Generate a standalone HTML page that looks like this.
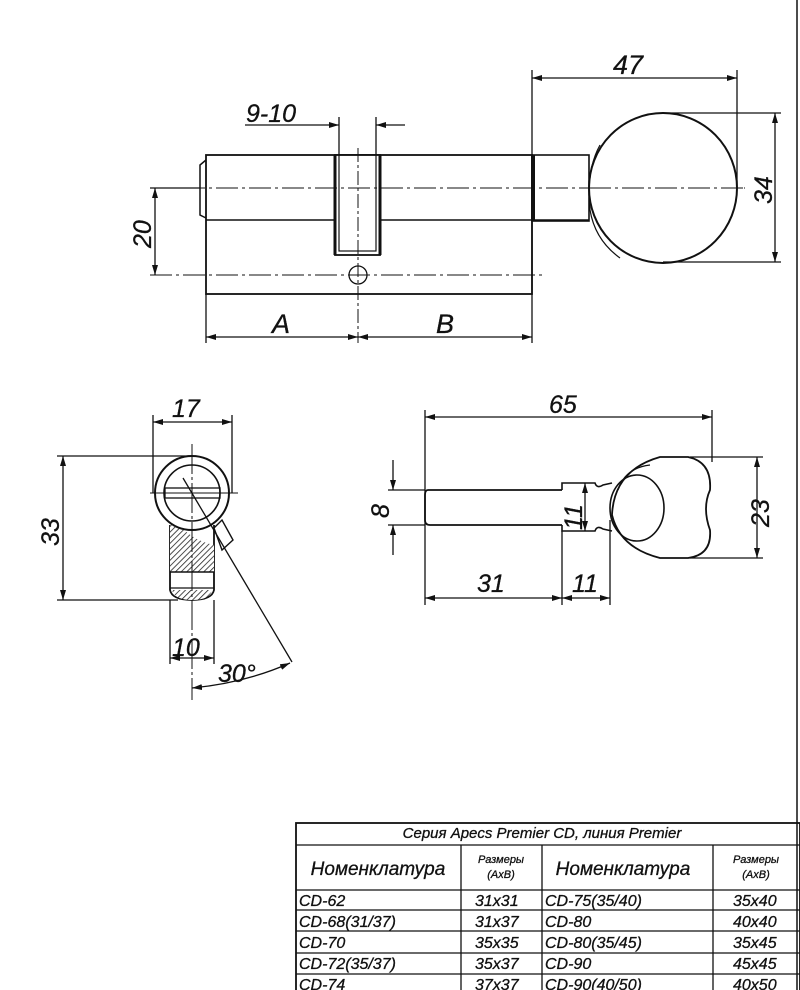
<!DOCTYPE html>
<html><head><meta charset="utf-8"><style>
html,body{margin:0;padding:0;background:#fff;}
svg{display:block}
text{font-family:"Liberation Sans",sans-serif;font-style:italic;fill:#111;stroke:#111;stroke-width:0.3}
</style></head><body>
<svg width="800" height="990" viewBox="0 0 800 990" xmlns="http://www.w3.org/2000/svg">
<defs>
<marker id="a" viewBox="0 0 10 6" refX="10" refY="3" markerWidth="10" markerHeight="6" orient="auto-start-reverse" markerUnits="userSpaceOnUse"><path d="M0,0 L10,3 L0,6 z" fill="#111"/></marker>
<pattern id="h" width="4" height="4" patternUnits="userSpaceOnUse" patternTransform="rotate(45)"><rect width="4" height="4" fill="#fff"/><line x1="0" y1="0" x2="0" y2="4" stroke="#222" stroke-width="1.6"/></pattern>
</defs>
<g stroke="#111" fill="none" stroke-width="1.3">
<line x1="797" y1="0" x2="797" y2="990" stroke-width="1.5"/>
<!-- TOP VIEW -->
<rect x="206" y="155" width="326" height="139" stroke-width="1.8"/>
<line x1="206" y1="220" x2="589" y2="220" stroke-width="1.6"/>
<path d="M206,160 L200,165 L200,215 L206,218" stroke-width="1.5"/>
<rect x="335" y="155" width="45" height="100" fill="#fff" stroke-width="1.8"/>
<rect x="339" y="155" width="37" height="96" stroke-width="1.2"/>
<line x1="335" y1="155" x2="335" y2="255" stroke-width="3"/>
<line x1="380" y1="155" x2="380" y2="255" stroke-width="3"/>
<circle cx="358" cy="275" r="9"/>
<line x1="150" y1="188" x2="745" y2="188" stroke-dasharray="22,4,3,4" stroke-width="1"/>
<line x1="150" y1="275" x2="542" y2="275" stroke-dasharray="22,4,3,4" stroke-width="1"/>
<line x1="358" y1="148" x2="358" y2="343" stroke-dasharray="14,3,3,3" stroke-width="1"/>
<rect x="532" y="155" width="57" height="66" stroke-width="1.6"/>
<line x1="533" y1="155" x2="533" y2="221" stroke-width="4"/>
<ellipse cx="663" cy="188" rx="74" ry="75" fill="#fff" stroke-width="2"/>
<path d="M600,145 Q586,170 590,210 Q595,240 620,258" stroke-width="1.2"/>
<line x1="589" y1="188" x2="745" y2="188" stroke-dasharray="22,4,3,4" stroke-width="1"/>
<line x1="339" y1="117" x2="339" y2="155"/><line x1="376" y1="117" x2="376" y2="155"/>
<line x1="245" y1="125" x2="319" y2="125"/>
<line x1="319" y1="125" x2="339" y2="125" marker-end="url(#a)"/>
<line x1="405" y1="125" x2="376" y2="125" marker-end="url(#a)"/>
<line x1="150" y1="188" x2="200" y2="188"/>
<line x1="155" y1="188" x2="155" y2="275" marker-start="url(#a)" marker-end="url(#a)"/>
<line x1="206" y1="294" x2="206" y2="343"/><line x1="532" y1="221" x2="532" y2="343"/>
<line x1="206" y1="337" x2="358" y2="337" marker-start="url(#a)" marker-end="url(#a)"/>
<line x1="358" y1="337" x2="532" y2="337" marker-start="url(#a)" marker-end="url(#a)"/>
<line x1="532" y1="70" x2="532" y2="155"/><line x1="737" y1="70" x2="737" y2="188"/>
<line x1="532" y1="78" x2="737" y2="78" marker-start="url(#a)" marker-end="url(#a)"/>
<line x1="663" y1="113" x2="781" y2="113"/><line x1="663" y1="262" x2="781" y2="262"/>
<line x1="775" y1="113" x2="775" y2="262" marker-start="url(#a)" marker-end="url(#a)"/>
<!-- SIDE VIEW -->
<path d="M170,525 L170,590 Q172,600 192,600 Q212,600 214,590 L214,525" fill="#fff" stroke-width="1.8"/>
<path d="M170,525 L170,572 L214,572 L214,545 Q190,540 175,520 Z" fill="url(#h)" stroke="none"/>
<path d="M172,590 Q175,600 192,600 Q210,600 212,590 Z" fill="url(#h)" stroke="none"/>
<line x1="170" y1="572" x2="214" y2="572" stroke-width="1.4"/>
<line x1="170" y1="588" x2="214" y2="588"/>
<circle cx="192" cy="493" r="37" fill="#fff" stroke-width="2"/>
<circle cx="192" cy="493" r="28" stroke-width="1.6"/>
<rect x="165" y="488" width="55" height="10" stroke-width="1.3"/>
<path d="M214,528 L222,520 L233,540 L222,550 Z" fill="#fff" stroke-width="1.4"/>
<line x1="150" y1="493" x2="238" y2="493" stroke-width="1"/>
<line x1="192" y1="444" x2="192" y2="700" stroke-dasharray="30,3,3,3" stroke-width="1"/>
<line x1="183" y1="478" x2="292" y2="662"/>
<line x1="153" y1="415" x2="153" y2="493"/><line x1="232" y1="415" x2="232" y2="493"/>
<line x1="153" y1="422" x2="232" y2="422" marker-start="url(#a)" marker-end="url(#a)"/>
<line x1="57" y1="456" x2="192" y2="456"/><line x1="57" y1="600" x2="178" y2="600"/>
<line x1="63" y1="456" x2="63" y2="600" marker-start="url(#a)" marker-end="url(#a)"/>
<line x1="170" y1="600" x2="170" y2="664"/><line x1="214" y1="600" x2="214" y2="664"/>
<line x1="170" y1="658" x2="214" y2="658" marker-start="url(#a)" marker-end="url(#a)"/>
<path d="M192,688 Q245,683 290,663" marker-start="url(#a)" marker-end="url(#a)"/>
<!-- KEY VIEW -->
<path d="M562,490 L428,490 Q425,490 425,495 L425,520 Q425,525 430,525 L562,525" stroke-width="1.8"/>
<path d="M562,490 L562,483 L595,483 Q597,489 603,485 L612,483 M562,525 L562,531 L595,531 Q597,525 603,529 L612,531" stroke-width="1.6"/>
<path d="M660,457 L688,457 Q712,462 710,490 Q702,508 710,530 Q712,555 688,558 L660,558 Q620,548 612,515 Q614,470 660,457 Z" fill="#fff" stroke-width="1.8"/>
<path d="M618,490 Q625,468 650,465" stroke-width="1.2"/>
<ellipse cx="637" cy="508" rx="27" ry="33" stroke-width="1.6"/>
<line x1="425" y1="410" x2="425" y2="605"/><line x1="712" y1="410" x2="712" y2="462"/>
<line x1="425" y1="417" x2="712" y2="417" marker-start="url(#a)" marker-end="url(#a)"/>
<line x1="388" y1="490" x2="425" y2="490"/><line x1="388" y1="525" x2="425" y2="525"/>
<line x1="393" y1="460" x2="393" y2="490" marker-end="url(#a)"/>
<line x1="393" y1="555" x2="393" y2="525" marker-end="url(#a)"/>
<line x1="585" y1="483" x2="585" y2="531" marker-start="url(#a)" marker-end="url(#a)"/>
<line x1="562" y1="531" x2="562" y2="605"/><line x1="610" y1="520" x2="610" y2="605"/>
<line x1="425" y1="598" x2="562" y2="598" marker-start="url(#a)" marker-end="url(#a)"/>
<line x1="562" y1="598" x2="610" y2="598" marker-start="url(#a)" marker-end="url(#a)"/>
<line x1="690" y1="457" x2="763" y2="457"/><line x1="690" y1="558" x2="763" y2="558"/>
<line x1="757" y1="457" x2="757" y2="558" marker-start="url(#a)" marker-end="url(#a)"/>
<!-- TABLE -->
<rect x="296" y="823" width="504" height="170" stroke-width="1.8"/>
<line x1="296" y1="845" x2="800" y2="845"/>
<line x1="296" y1="890" x2="800" y2="890"/>
<line x1="296" y1="910" x2="800" y2="910"/>
<line x1="296" y1="931" x2="800" y2="931"/>
<line x1="296" y1="953" x2="800" y2="953"/>
<line x1="296" y1="974" x2="800" y2="974"/>
<line x1="461" y1="845" x2="461" y2="990"/>
<line x1="542" y1="845" x2="542" y2="990"/>
<line x1="713" y1="845" x2="713" y2="990"/>
</g>
<g font-size="25">
<text x="246" y="122">9-10</text>
<text x="272" y="333" font-size="27">A</text>
<text x="436" y="333" font-size="27">B</text>
<text x="613" y="74" font-size="27">47</text>
<text x="151" y="248" transform="rotate(-90 151 248)" font-style="normal">20</text>
<text x="772" y="204" transform="rotate(-90 772 204)" font-style="normal">34</text>
<text x="172" y="417">17</text>
<text x="59" y="546" transform="rotate(-90 59 546)" font-style="normal">33</text>
<text x="172" y="656">10</text>
<text x="218" y="682">30°</text>
<text x="549" y="413">65</text>
<text x="389" y="518" transform="rotate(-90 389 518)" font-style="normal">8</text>
<text x="582" y="530" transform="rotate(-90 582 530)">11</text>
<text x="769" y="527" transform="rotate(-90 769 527)" font-style="normal">23</text>
<text x="477" y="592">31</text>
<text x="572" y="592">11</text>
</g>
<g font-size="15">
<text x="542" y="838" text-anchor="middle">Серия Apecs Premier CD, линия Premier</text>
<text x="378" y="875" font-size="19" text-anchor="middle">Номенклатура</text>
<text x="623" y="875" font-size="19" text-anchor="middle">Номенклатура</text>
<text x="501" y="863" font-size="11" text-anchor="middle">Размеры</text><text x="501" y="878" font-size="11" text-anchor="middle">(AxB)</text>
<text x="756" y="863" font-size="11" text-anchor="middle">Размеры</text><text x="756" y="878" font-size="11" text-anchor="middle">(AxB)</text>
<g font-size="16">
<text x="299" y="906">CD-62</text><text x="475" y="906">31x31</text><text x="545" y="906">CD-75(35/40)</text><text x="733" y="906">35x40</text>
<text x="299" y="927">CD-68(31/37)</text><text x="475" y="927">31x37</text><text x="545" y="927">CD-80</text><text x="733" y="927">40x40</text>
<text x="299" y="948">CD-70</text><text x="475" y="948">35x35</text><text x="545" y="948">CD-80(35/45)</text><text x="733" y="948">35x45</text>
<text x="299" y="969">CD-72(35/37)</text><text x="475" y="969">35x37</text><text x="545" y="969">CD-90</text><text x="733" y="969">45x45</text>
<text x="299" y="990">CD-74</text><text x="475" y="990">37x37</text><text x="545" y="990">CD-90(40/50)</text><text x="733" y="990">40x50</text>
</g>
</g>
</svg>
</body></html>
